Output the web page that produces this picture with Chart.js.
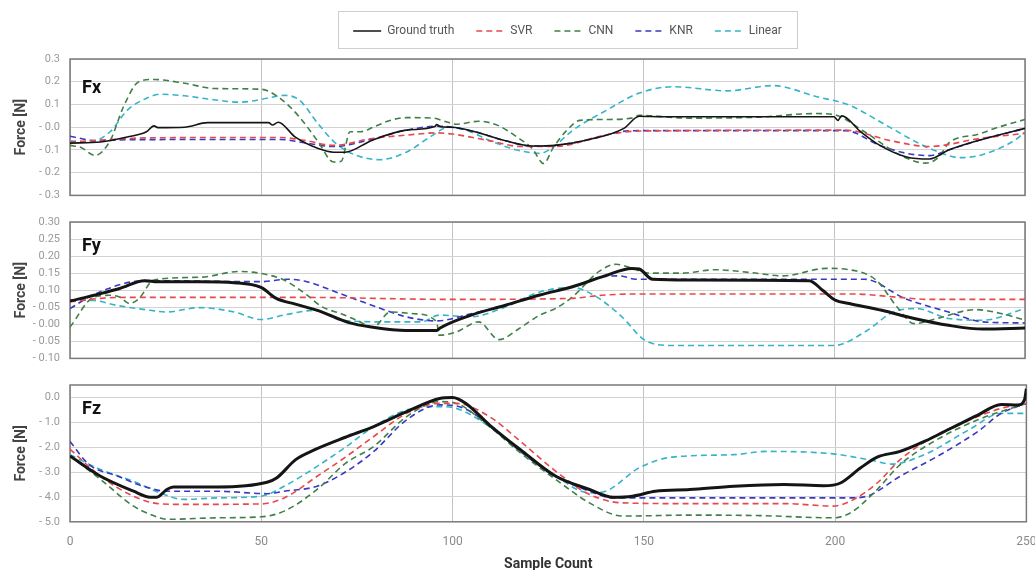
<!DOCTYPE html>
<html lang="en">
<head>
<meta charset="UTF-8">
<title>Force prediction per axis</title>
<script src="https://cdn.jsdelivr.net/npm/chart.js"></script>
<style>
  body { margin: 0; background: #fff; overflow: hidden; }
  .panel { position: absolute; left: 0; width: 1035px; }
</style>
</head>
<body>
<div class="panel" style="top:7px;height:205px"><canvas id="fxChart"></canvas></div>
<div class="panel" style="top:205px;height:170px"><canvas id="fyChart"></canvas></div>
<div class="panel" style="top:365px;height:205px;width:1051px"><canvas id="fzChart"></canvas></div>
<script>
// ---- data, [sample, force] ----
const seriesNames = ['Ground truth', 'SVR', 'CNN', 'KNR', 'Linear'];

const fxTruth = [[0,-0.07],[8,-0.065],[15,-0.043],[20,-0.02],[22,0.006],[23,-0.002],[30,0],[36,0.02],[52,0.02],[53,0.01],[54.5,0.022],[59,-0.044],[65,-0.094],[69,-0.11],[72,-0.11],[79,-0.058],[88,-0.013],[95.5,0.003],[96,0.012],[97,0.002],[100,0],[106,-0.02],[114,-0.06],[121,-0.083],[127,-0.08],[136,-0.054],[145,-0.005],[149,0.048],[155,0.046],[200,0.046],[201,0.03],[202,0.05],[207,-0.02],[212,-0.08],[219,-0.131],[225,-0.14],[230,-0.10],[238,-0.057],[250,-0.005]];
const fxSvr = [[0,-0.065],[10,-0.055],[20,-0.047],[55,-0.045],[62,-0.06],[69,-0.08],[79,-0.05],[88,-0.035],[96,-0.025],[100,-0.03],[110,-0.06],[118,-0.085],[127,-0.085],[140,-0.035],[149,-0.017],[203,-0.013],[215,-0.06],[225,-0.085],[238,-0.05],[250,-0.027]];
const fxCnn = [[0,-0.08],[3,-0.09],[6.5,-0.124],[10.5,-0.06],[14,0.09],[18,0.2],[22,0.21],[30,0.193],[38,0.17],[50,0.167],[55,0.127],[60,0.046],[65,-0.065],[69,-0.153],[71,-0.15],[73.3,-0.02],[76,-0.02],[79.4,0],[84,0.031],[88,0.042],[95,0.04],[98.3,0.025],[101,0.013],[107,0.026],[112,0.008],[117,-0.043],[121,-0.094],[124,-0.16],[126.5,-0.09],[130,-0.015],[133.5,0.03],[140.5,0.034],[147,0.04],[149,0.052],[162,0.04],[180,0.044],[195,0.06],[200,0.055],[208,-0.02],[217,-0.12],[224,-0.158],[227.5,-0.13],[230,-0.07],[238,-0.03],[243,0],[250,0.034]];
const fxKnr = [[0,-0.04],[7,-0.06],[15,-0.055],[55,-0.054],[62,-0.07],[69,-0.085],[79,-0.053],[88,-0.013],[96,0.004],[100,0],[106,-0.02],[114,-0.06],[121,-0.083],[127,-0.08],[136,-0.054],[144,-0.02],[149,-0.015],[203,-0.015],[212,-0.08],[219,-0.115],[225,-0.125],[230,-0.10],[238,-0.057],[250,-0.006]];
const fxLinear = [[0,-0.06],[5,-0.065],[10.5,-0.02],[15,0.075],[20,0.127],[23.5,0.145],[30,0.138],[38,0.12],[44.5,0.11],[51.5,0.127],[56,0.14],[60,0.12],[65,0.014],[69,-0.062],[73,-0.11],[81,-0.143],[88,-0.11],[95,-0.035],[99,0],[104,-0.015],[110,-0.06],[117,-0.1],[123,-0.115],[127,-0.08],[131.5,-0.015],[140.5,0.075],[149,0.15],[158,0.178],[172,0.16],[184,0.183],[195.5,0.134],[204,0.097],[213,0.015],[221.5,-0.065],[226,-0.10],[233,-0.134],[239,-0.12],[247.5,-0.055],[250,-0.02]];

const fyTruth = [[0,0.068],[8,0.09],[13,0.105],[19.5,0.128],[23,0.125],[34,0.125],[43,0.122],[50,0.108],[54,0.076],[59,0.059],[65,0.04],[73,0.005],[79,-0.008],[88,-0.018],[96,-0.018],[97,-0.01],[105,0.027],[114,0.056],[123,0.086],[131.5,0.11],[140,0.142],[147,0.164],[149,0.162],[152.5,0.132],[162,0.13],[193.5,0.128],[197,0.1],[200.3,0.071],[204,0.061],[212.5,0.041],[221,0.017],[230,-0.003],[239,-0.014],[250,-0.011]];
const fySvr = [[0,0.066],[8,0.076],[15,0.079],[60,0.079],[100,0.073],[131,0.076],[140,0.086],[150,0.089],[205,0.089],[217,0.079],[225,0.073],[250,0.073]];
const fyCnn = [[0,-0.008],[6.3,0.08],[10.5,0.085],[13,0.08],[15.6,0.061],[18,0.075],[22,0.13],[34,0.138],[44.5,0.155],[50.5,0.148],[56,0.13],[62,0.086],[66,0.051],[71,0.031],[75,0.012],[79.4,-0.008],[83.8,0.036],[90,0.031],[96,0.007],[96.6,-0.032],[101,-0.023],[107,0.007],[112.3,-0.045],[117.5,-0.013],[123,0.027],[127,0.046],[131.5,0.08],[138.5,0.155],[143,0.176],[147.3,0.164],[151.6,0.15],[160,0.15],[169,0.16],[178,0.152],[186.7,0.142],[198,0.164],[204,0.16],[211,0.13],[216.5,0.051],[221,0.002],[227,0.017],[237,0.043],[244,0.031],[250,0.012]];
const fyKnr = [[0,0.046],[6,0.086],[19.5,0.128],[50,0.125],[57,0.132],[62,0.125],[70.7,0.09],[79,0.056],[88,0.022],[96,0.01],[105,0.031],[114,0.056],[123,0.086],[131.5,0.11],[140,0.14],[144,0.142],[148,0.132],[208,0.132],[218.5,0.076],[230,0.036],[239,0.007],[250,0.004]];
const fyLinear = [[0,0.072],[6.3,0.07],[12,0.056],[21,0.041],[25,0.036],[34,0.049],[43,0.036],[50,0.014],[56,0.027],[64,0.041],[71,0.012],[84,0.007],[92,0.007],[96.6,0.027],[105,0.022],[114,0.051],[123,0.095],[131.5,0.108],[137,0.086],[144.5,0.022],[150.5,-0.047],[157.6,-0.062],[200,-0.062],[208.7,-0.018],[215.5,0.036],[221.6,0.046],[230,0.017],[239,0.012],[250,0.046]];

const fzTruth = [[0,-2.35],[8,-3.17],[16.6,-3.77],[21,-4.01],[22.7,-4.01],[25.3,-3.7],[27,-3.6],[38.4,-3.6],[51.5,-3.41],[54,-3.24],[59,-2.5],[64,-2.1],[72,-1.6],[79.4,-1.17],[88,-0.57],[96.6,-0.04],[100,0],[103.5,-0.24],[109.6,-1.1],[118.3,-2.17],[127,-3.17],[135.8,-3.7],[142,-4.01],[147,-3.97],[153,-3.77],[162,-3.7],[173.6,-3.57],[186.7,-3.5],[197,-3.55],[201.4,-3.44],[206.6,-2.84],[211,-2.4],[217,-2.17],[223.3,-1.77],[230.3,-1.24],[237.3,-0.71],[243.4,-0.28],[247.8,-0.3],[249.5,-0.1],[250,0.35]];
const fzSvr = [[0,-2.08],[8,-3.17],[16.6,-3.97],[23.6,-4.28],[30,-4.3],[50,-4.28],[56,-4.04],[64.6,-3.17],[72,-2.4],[79.4,-1.57],[88,-0.64],[96.6,-0.24],[101,-0.24],[109.6,-0.77],[118.3,-1.84],[127,-2.97],[135.8,-3.9],[144.5,-4.24],[162,-4.27],[187,-4.27],[199.5,-4.37],[204,-4.17],[211,-3.44],[217,-2.5],[225.8,-1.57],[237.3,-0.77],[243.4,-0.44],[250,-0.24]];
const fzCnn = [[0,-2.35],[8,-3.3],[16.6,-4.37],[21,-4.7],[25.3,-4.9],[38.4,-4.84],[50,-4.8],[56,-4.57],[64.6,-3.7],[72,-2.65],[79.4,-1.97],[88,-0.77],[96.6,-0.17],[101,-0.24],[109.6,-1.17],[118.3,-2.3],[127,-3.3],[135.8,-4.24],[144.5,-4.77],[162,-4.73],[180,-4.75],[199.5,-4.84],[204,-4.64],[211,-3.7],[217,-2.7],[225.8,-1.77],[237.3,-0.9],[250,-0.24]];
const fzKnr = [[0,-1.77],[5,-2.7],[12.2,-3.15],[19.2,-3.57],[25.3,-3.77],[38.4,-3.77],[51.5,-3.87],[56,-3.77],[64.6,-3.57],[72,-3.0],[79.4,-2.17],[88,-0.9],[96.6,-0.3],[101,-0.34],[109.6,-1.1],[118.3,-2.24],[127,-3.17],[135.8,-3.77],[142,-4.04],[204,-4.04],[208.7,-3.95],[217,-3.17],[226.7,-2.37],[237.3,-1.37],[243.4,-0.64],[250,-0.24]];
const fzLinear = [[0,-2.3],[8,-2.9],[16.6,-3.37],[23.6,-3.84],[29.7,-4.1],[38.4,-4.04],[50,-3.97],[56,-3.57],[64.6,-2.77],[72,-2.0],[79.4,-1.17],[88,-0.5],[96.6,-0.37],[101,-0.44],[109.6,-1.17],[118.3,-2.24],[127,-3.17],[135.8,-3.84],[140,-3.77],[148.7,-2.84],[157.4,-2.4],[173.6,-2.3],[182,-2.17],[199.5,-2.27],[208.7,-2.5],[214.8,-2.68],[223.3,-2.3],[235,-1.3],[243.4,-0.64],[250,-0.64]];

// tick values and the labels exactly as printed on the figure
const fxTicks = [-0.3, -0.2, -0.1, 0, 0.1, 0.2, 0.3];
const fxTickLabels = ['- 0.3', '- 0.2', '- 0.1', '- 0.0', '0.1', '0.2', '0.3'];
const fyTicks = [-0.1, -0.05, 0, 0.05, 0.1, 0.15, 0.2, 0.25, 0.3];
const fyTickLabels = ['- 0.10', '- 0.05', '- 0.00', '- 0.05', '0.10', '0.15', '0.20', '0.25', '0.30'];
const fzTicks = [-5, -4, -3, -2, -1, 0];
const fzTickLabels = ['- 5.0', '- 4.0', '- 3.0', '- 2.0', '- 1.0', '0.0'];

// ---- styling ----
Chart.defaults.font.family = 'Roboto, "Noto Sans", sans-serif';
const colors = ['#151515', '#e8474b', '#3f8048', '#3838c4', '#35b4c8'];
const dash = [6, 4];

function buildDatasets(series, truthWidth) {
  return series.map((pts, i) => ({
    label: seriesNames[i],
    data: pts,
    borderColor: colors[i],
    backgroundColor: 'transparent',
    borderWidth: i === 0 ? truthWidth : 1.6,
    borderDash: i === 0 ? [] : dash,
    pointRadius: 0,
    cubicInterpolationMode: 'monotone'
  }));
}

const frame = {
  id: 'frame',
  beforeDatasetsDraw(chart) {
    const {ctx, chartArea: a} = chart;
    ctx.save();
    ctx.strokeStyle = '#7a7a7a';
    ctx.lineWidth = 1.5;
    ctx.strokeRect(a.left, a.top, a.right - a.left, a.bottom - a.top);
    ctx.restore();
  },
  afterDraw(chart, args, opts) {
    if (!opts.text) return;
    const {ctx, chartArea: a} = chart;
    ctx.save();
    ctx.font = 'bold 18px Roboto';
    ctx.fillStyle = '#111';
    ctx.fillText(opts.text, a.left + 12, a.top + 29);
    ctx.restore();
  }
};

// moves the legend over the plot and draws a box round it
const legendBox = {
  id: 'legendBox',
  afterLayout(chart, args, opts) {
    const lg = chart.legend;
    lg.left += opts.dx; lg.right += opts.dx;
    lg.top += opts.dy; lg.bottom += opts.dy;
  },
  afterDraw(chart) {
    const boxes = chart.legend.legendHitBoxes;
    if (!boxes.length) return;
    const l = Math.min(...boxes.map(b => b.left)) - 15;
    const r = Math.max(...boxes.map(b => b.left + b.width)) + 15;
    const t = Math.min(...boxes.map(b => b.top)) - 14;
    const btm = Math.max(...boxes.map(b => b.top + b.height)) + 11;
    const ctx = chart.ctx;
    ctx.save();
    ctx.strokeStyle = '#cfcfcf';
    ctx.lineWidth = 1;
    ctx.strokeRect(Math.round(l) + 0.5, Math.round(t) + 0.5, Math.round(r - l), Math.round(btm - t));
    ctx.restore();
  }
};

function makeChart(id, cfg) {
  const bottom = !!cfg.xTitle;
  return new Chart(document.getElementById(id), {
    type: 'line',
    data: {datasets: buildDatasets(cfg.series, cfg.truthWidth)},
    plugins: cfg.legend ? [frame, legendBox] : [frame],
    options: {
      responsive: true,
      maintainAspectRatio: false,
      animation: false,
      layout: {padding: cfg.padding},
      plugins: {
        legend: cfg.legend ? {
          display: true,
          position: 'top',
          labels: {boxWidth: 28, boxHeight: 0, padding: 22, color: '#555', font: {size: 12}}
        } : {display: false},
        tooltip: {enabled: false},
        frame: {text: cfg.name},
        legendBox: {dx: 55, dy: -12}
      },
      scales: {
        x: {
          type: 'linear',
          min: 0, max: 250,
          ticks: {display: bottom, stepSize: 50, color: '#8a8a8a', font: {size: 12, lineHeight: 1}, padding: 14.5},
          grid: {color: '#c4c4c4', drawTicks: false},
          border: {display: false},
          title: {display: bottom, text: cfg.xTitle, color: '#333', font: {size: 14, weight: 'bold', lineHeight: 0.3}, padding: {top: 0, bottom: 3}}
        },
        y: {
          min: cfg.yMin, max: cfg.yMax,
          afterBuildTicks: s => { s.ticks = cfg.ticks.map(v => ({value: v})); },
          afterFit: s => { s.width = 70; },
          ticks: {color: '#9a9a9a', font: {size: 11}, padding: 10, callback: (v, i) => cfg.tickLabels[i]},
          grid: {color: '#d2d2d2', drawTicks: false},
          border: {display: false},
          title: {display: true, text: 'Force [N]', color: '#444', font: {size: 14, weight: 'bold'}, padding: {top: 13, bottom: 0}}
        }
      }
    }
  });
}

makeChart('fxChart', {name: 'Fx', series: [fxTruth, fxSvr, fxCnn, fxKnr, fxLinear], truthWidth: 1.6,
  ticks: fxTicks, tickLabels: fxTickLabels, yMin: -0.3, yMax: 0.3, legend: true,
  padding: {left: 0, right: 10, top: 8, bottom: 10}});
makeChart('fyChart', {name: 'Fy', series: [fyTruth, fySvr, fyCnn, fyKnr, fyLinear], truthWidth: 3,
  ticks: fyTicks, tickLabels: fyTickLabels, yMin: -0.1, yMax: 0.3,
  padding: {left: 0, right: 10, top: 17, bottom: 7}});
makeChart('fzChart', {name: 'Fz', series: [fzTruth, fzSvr, fzCnn, fzKnr, fzLinear], truthWidth: 3,
  ticks: fzTicks, tickLabels: fzTickLabels, yMin: -5, yMax: 0.5, xTitle: 'Sample Count',
  padding: {left: 0, right: 0, top: 20, bottom: 0}});
</script>
</body>
</html>
